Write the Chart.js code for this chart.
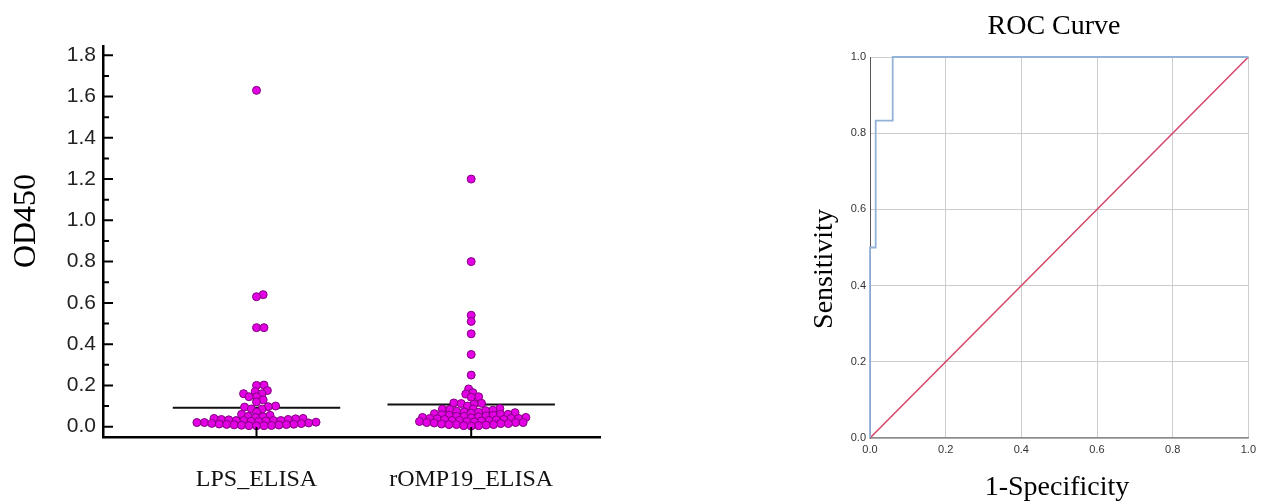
<!DOCTYPE html>
<html>
<head>
<meta charset="utf-8">
<script src="https://cdn.jsdelivr.net/npm/chart.js@4.4.1/dist/chart.umd.min.js"></script>
<style>
  body { margin: 0; background: #fff; width: 1261px; height: 501px; overflow: hidden; position: relative; }
  #wrapDots { position: absolute; left: 0; top: 0; width: 640px; height: 501px; }
  #wrapRoc { position: absolute; left: 780px; top: 0; width: 481px; height: 501px; }
</style>
</head>
<body>
<div id="wrapDots"><canvas id="dotChart" width="640" height="501"></canvas></div>
<div id="wrapRoc"><canvas id="rocChart" width="481" height="501"></canvas></div>
<script>
// groups on the dot plot
const groups = ['LPS_ELISA', 'rOMP19_ELISA'];

const lpsValues = [
    1.63, 0.64, 0.63, 0.48, 0.48,
    0.202, 0.20, 0.175, 0.17, 0.16, 0.16, 0.145, 0.145, 0.13, 0.12, 0.10, 0.097, 0.095, 0.086, 0.085, 0.07, 0.06, 0.055,
    0.05, 0.048, 0.045, 0.04, 0.04, 0.038, 0.035, 0.035, 0.033, 0.03, 0.03, 0.03, 0.03,
    0.028, 0.026, 0.025, 0.022, 0.02, 0.02, 0.018, 0.016, 0.015, 0.013, 0.012, 0.011, 0.01, 0.009,
    0.008, 0.007, 0.006, 0.005, 0.005, 0.004
];

const rompValues = [
    1.20, 0.80, 0.54, 0.51, 0.45, 0.35, 0.25,
    0.183, 0.165, 0.158, 0.145, 0.143, 0.115, 0.113, 0.112, 0.11, 0.10, 0.088, 0.086, 0.085, 0.084,
    0.08, 0.078, 0.075, 0.072, 0.07, 0.068, 0.065, 0.063, 0.06, 0.06, 0.058, 0.055, 0.055, 0.052,
    0.05, 0.05, 0.048, 0.045, 0.045, 0.043, 0.04, 0.04, 0.04, 0.038, 0.035, 0.035, 0.033,
    0.03, 0.03, 0.03, 0.028, 0.025, 0.025, 0.023, 0.02, 0.02, 0.02, 0.018, 0.015, 0.015, 0.013,
    0.01, 0.01, 0.01, 0.008, 0.005, 0.005, 0.003
];

// horizontal mean lines
const groupMeans = [0.092, 0.108];

const odTicks = [0.0, 0.2, 0.4, 0.6, 0.8, 1.0, 1.2, 1.4, 1.6, 1.8];

// ROC curve
const rocFpr = [0, 0, 0.015, 0.015, 0.06, 0.06, 1];
const rocTpr = [0, 0.5, 0.5, 0.833, 0.833, 1, 1];
const refFpr = [0, 1];
const refTpr = [0, 1];
const rocTicks = [0, 0.2, 0.4, 0.6, 0.8, 1.0];

// approx pixel sizes, only used to spread the swarm sideways
const PX_PER_OD = 206.3;
const PX_PER_GROUP = 215;
const GAP_X = 7.5;
const GAP_Y = 4.5;
const MEAN_HALF = 0.39;

// beeswarm with an oval keep-out zone round each dot
function swarm(values) {
    const placed = [];
    const order = values.map((v, i) => i).sort((a, b) => values[a] - values[b]);
    const out = new Array(values.length);
    for (const i of order) {
        const y = values[i] * PX_PER_OD;
        const near = placed.filter(p => Math.abs(p.y - y) < GAP_Y);
        const cands = [0];
        near.forEach(p => {
            const t = (p.y - y) / GAP_Y;
            const dx = GAP_X * Math.sqrt(1 - t * t);
            cands.push(p.x + dx, p.x - dx);
        });
        cands.sort((a, b) => Math.abs(a) - Math.abs(b));
        const x = cands.find(c => near.every(p => {
            const u = (p.x - c) / GAP_X, w = (p.y - y) / GAP_Y;
            return u * u + w * w >= 1 - 1e-6;
        }));
        placed.push({x, y});
        out[i] = x;
    }
    return out;
}

function swarmPoints(values, idx) {
    const offs = swarm(values);
    return values.map((v, i) => ({x: idx + offs[i] / PX_PER_GROUP, y: v}));
}

// plain text drawn at fixed spots (axis titles)
const textPlugin = {
    id: 'fixedTexts',
    afterDraw(chart, args, opts) {
        const ctx = chart.ctx;
        (opts.items || []).forEach(t => {
            ctx.save();
            ctx.font = t.font;
            ctx.fillStyle = t.color || '#000';
            ctx.textAlign = 'center';
            ctx.textBaseline = 'alphabetic';
            ctx.translate(t.x, t.y);
            if (t.rotate) ctx.rotate(t.rotate);
            ctx.fillText(t.text, 0, 0);
            ctx.restore();
        });
    }
};

// inward tick marks for the dot plot
const innerTicks = {
    id: 'innerTicks',
    afterDraw(chart) {
        const ctx = chart.ctx;
        const xs = chart.scales.x, ys = chart.scales.y;
        const left = chart.chartArea.left, bottom = chart.chartArea.bottom;
        ctx.save();
        ctx.strokeStyle = '#000';
        ctx.lineWidth = 2;
        ctx.beginPath();
        odTicks.forEach((v, i) => {
            const y = ys.getPixelForValue(v);
            ctx.moveTo(left, y); ctx.lineTo(left + 10, y);
            if (i < odTicks.length - 1) {
                const ym = ys.getPixelForValue((v + odTicks[i + 1]) / 2);
                ctx.moveTo(left, ym); ctx.lineTo(left + 6, ym);
            }
        });
        groups.forEach((g, i) => {
            const x = xs.getPixelForValue(i);
            ctx.moveTo(x, bottom); ctx.lineTo(x, bottom - 10);
        });
        ctx.stroke();
        ctx.restore();
    }
};

const dotDatasets = [
    {
        type: 'scatter',
        data: swarmPoints(lpsValues, 0),
        pointRadius: 4,
        pointBackgroundColor: '#e400e4',
        pointBorderColor: '#80007f',
        pointBorderWidth: 1,
        order: 1
    },
    {
        type: 'scatter',
        data: swarmPoints(rompValues, 1),
        pointRadius: 4,
        pointBackgroundColor: '#e400e4',
        pointBorderColor: '#80007f',
        pointBorderWidth: 1,
        order: 1
    }
];
groupMeans.forEach((m, i) => {
    dotDatasets.push({
        type: 'line',
        data: [{x: i - MEAN_HALF, y: m}, {x: i + MEAN_HALF, y: m}],
        borderColor: '#111',
        borderWidth: 2,
        pointRadius: 0,
        order: 2
    });
});

new Chart(document.getElementById('dotChart'), {
    type: 'scatter',
    data: {datasets: dotDatasets},
    options: {
        responsive: false,
        animation: false,
        layout: {padding: {top: 46, right: 40, left: 0, bottom: 0}},
        plugins: {
            legend: {display: false},
            tooltip: {enabled: false},
            fixedTexts: {
                items: [
                    {text: 'OD450', x: 35, y: 221, rotate: -Math.PI / 2, font: '32px "Liberation Serif"'}
                ]
            }
        },
        scales: {
            x: {
                type: 'linear',
                min: -0.715,
                max: 1.6,
                afterBuildTicks: s => { s.ticks = groups.map((g, i) => ({value: i})); },
                afterFit: s => { s.height = 64; },
                grid: {display: false, drawTicks: false},
                border: {display: true, color: '#000', width: 2.5},
                ticks: {
                    padding: 28,
                    color: '#111',
                    font: {family: 'Liberation Serif', size: 24},
                    callback: v => groups[v] || ''
                }
            },
            y: {
                min: -0.05,
                max: 1.845,
                afterBuildTicks: s => { s.ticks = odTicks.map(v => ({value: v})); },
                afterFit: s => { s.width = 103; },
                grid: {display: false, drawTicks: false},
                border: {display: true, color: '#000', width: 2.5},
                ticks: {
                    padding: 7,
                    color: '#222',
                    font: {family: 'Liberation Sans', size: 21},
                    callback: v => v.toFixed(1)
                }
            }
        }
    },
    plugins: [innerTicks, textPlugin]
});

new Chart(document.getElementById('rocChart'), {
    type: 'line',
    data: {
        datasets: [
            {
                data: rocFpr.map((f, i) => ({x: f, y: rocTpr[i]})),
                borderColor: '#93b2d8',
                borderWidth: 1.8,
                pointRadius: 0,
                tension: 0,
                clip: false
            },
            {
                data: refFpr.map((f, i) => ({x: f, y: refTpr[i]})),
                borderColor: '#d6486c',
                borderWidth: 1.6,
                pointRadius: 0,
                tension: 0,
                clip: false
            }
        ]
    },
    options: {
        responsive: false,
        animation: false,
        layout: {padding: {top: 57, right: 10, left: 0, bottom: 0}},
        plugins: {
            legend: {display: false},
            tooltip: {enabled: false},
            fixedTexts: {
                items: [
                    {text: 'ROC Curve', x: 274, y: 34, font: '28px "Liberation Serif"'},
                    {text: '1-Specificity', x: 277, y: 495, font: '28px "Liberation Serif"'},
                    {text: 'Sensitivity', x: 52, y: 269, rotate: -Math.PI / 2, font: '28px "Liberation Serif"'}
                ]
            }
        },
        scales: {
            x: {
                type: 'linear',
                min: 0,
                max: 1,
                afterBuildTicks: s => { s.ticks = rocTicks.map(v => ({value: v})); },
                afterFit: s => { s.height = 63; },
                grid: {color: '#cdcdcd', lineWidth: 1, drawTicks: false},
                border: {display: true, color: '#8c8c8c', width: 1.5},
                ticks: {
                    padding: 5,
                    color: '#333',
                    font: {family: 'Liberation Sans', size: 11},
                    callback: v => v.toFixed(1)
                }
            },
            y: {
                min: 0,
                max: 1,
                afterBuildTicks: s => { s.ticks = rocTicks.map(v => ({value: v})); },
                afterFit: s => { s.width = 90; },
                grid: {color: '#cdcdcd', lineWidth: 1, drawTicks: false},
                border: {display: true, color: '#555', width: 1},
                ticks: {
                    padding: 4,
                    color: '#333',
                    font: {family: 'Liberation Sans', size: 11},
                    callback: v => v.toFixed(1)
                }
            }
        }
    },
    plugins: [textPlugin]
});
</script>
</body>
</html>
